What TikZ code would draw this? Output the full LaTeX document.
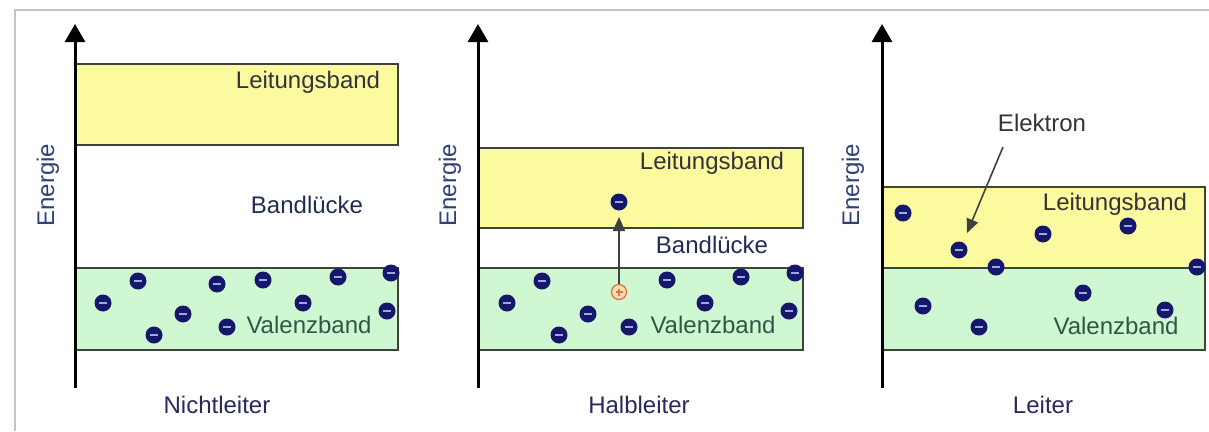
\documentclass[tikz,border=0pt]{standalone}
\usepackage{fontspec}
\setmainfont{Liberation Sans}
\usetikzlibrary{arrows.meta}
\definecolor{cbfill}{HTML}{FCFA9E}
\definecolor{vbfill}{HTML}{CFF7D2}
\definecolor{bandline}{HTML}{3E4436}
\definecolor{enavy}{HTML}{16176B}
\definecolor{eminus}{HTML}{9AACE6}
\definecolor{txtgrey}{HTML}{333338}
\definecolor{txtnavy}{HTML}{2E3F7A}
\definecolor{txtgreen}{HTML}{2F5747}
\definecolor{frame}{HTML}{C4C4C4}
\definecolor{holeline}{HTML}{E0763A}
\definecolor{holefill}{HTML}{F9DDB8}
\tikzset{
  x=1pt, y=-1pt,
  lbl/.style={font=\fontsize{24}{28}\selectfont, inner sep=0pt},
  cbtxt/.style={lbl, text=txtgrey},
  gaptxt/.style={lbl, text=txtnavy!70!black},
  vbtxt/.style={lbl, text=txtgreen},
  captxt/.style={lbl, text=txtgrey!80!blue},
  entxt/.style={lbl, text=txtnavy, rotate=90},
  axis/.style={line width=3pt, -{Triangle[width=20pt,length=18pt]}},
  cband/.style={draw=bandline, line width=2.4pt, fill=cbfill},
  vband/.style={draw=bandline, line width=2.4pt, fill=vbfill},
  electron/.style={circle, fill=enavy, minimum size=17pt, inner sep=0pt,
    path picture={\draw[eminus, line width=2.6pt]
      ([xshift=-4pt]path picture bounding box.center) --
      ([xshift=4pt]path picture bounding box.center);}},
  hole/.style={circle, draw=holeline, fill=holefill, line width=1.3pt,
    minimum size=15pt, inner sep=0pt,
    path picture={\draw[holeline, line width=1.2pt]
      ([xshift=-3.5pt]path picture bounding box.center) --
      ([xshift=3.5pt]path picture bounding box.center)
      ([yshift=-3.5pt]path picture bounding box.center) --
      ([yshift=3.5pt]path picture bounding box.center);}},
  pointer/.style={line width=1.6pt, draw=black!75, -{Triangle[width=12pt,length=14pt]}},
}
\begin{document}
\begin{tikzpicture}
\useasboundingbox (0,0) rectangle (1209,431);
% outer frame
\draw[frame, line width=1.5pt] (15,431) -- (15,10) -- (1209,10);

% ---------- Nichtleiter ----------
\filldraw[cband] (75,64) rectangle (398,145);
\filldraw[vband] (75,268) rectangle (398,350);
\coordinate (a1b) at (75,388);
\coordinate (a1t) at (75,24);
\draw[axis] (a1b) -- (a1t);
\node[entxt] (en1) at (48,185) {Energie};
\node[cbtxt] (cb1) at (308,82) {Leitungsband};
\node[gaptxt] (gap1) at (307,205) {Bandlücke};
\node[vbtxt] (vb1) at (309,325) {Valenzband};
\node[captxt] (cap1) at (217,405) {Nichtleiter};
\foreach \p [count=\i] in {(103,303),(138,281),(154,335),(183,314),(217,284),(263,280),
    (303,303),(338,277),(391,273),(387,311),(227,327)}
  \node[electron] (e1-\i) at \p {};

% ---------- Halbleiter ----------
\filldraw[cband] (478,148) rectangle (803,228);
\filldraw[vband] (478,268) rectangle (803,350);
\coordinate (a2b) at (478,388);
\coordinate (a2t) at (478,24);
\draw[axis] (a2b) -- (a2t);
\node[entxt] (en2) at (450,185) {Energie};
\node[cbtxt] (cb2) at (712,163) {Leitungsband};
\node[gaptxt] (gap2) at (712,245) {Bandlücke};
\node[vbtxt] (vb2) at (713,325) {Valenzband};
\node[captxt] (cap2) at (639,405) {Halbleiter};
\foreach \p [count=\i] in {(507,303),(542,281),(559,335),(588,314),(629,327),(667,280),
    (705,303),(741,277),(795,273),(789,311)}
  \node[electron] (e2-\i) at \p {};
\node[electron] (ex) at (619,202) {};
\node[hole] (h) at (619,292) {};
\coordinate (jump) at (619,217);
\draw[pointer] (h) -- (jump);

% ---------- Leiter ----------
\filldraw[cband] (882,187) rectangle (1205,268);
\filldraw[vband] (882,268) rectangle (1205,350);
\coordinate (a3b) at (882,388);
\coordinate (a3t) at (882,24);
\draw[axis] (a3b) -- (a3t);
\node[entxt] (en3) at (853,185) {Energie};
\node[cbtxt] (cb3) at (1115,204) {Leitungsband};
\node[vbtxt] (vb3) at (1116,326) {Valenzband};
\node[cbtxt] (el) at (1042,123) {Elektron};
\node[captxt] (cap3) at (1043,405) {Leiter};
\foreach \p [count=\i] in {(903,213),(959,250),(996,267),(1043,234),(1128,226),(1197,267),
    (923,306),(979,327),(1083,293),(1165,310)}
  \node[electron] (e3-\i) at \p {};
\coordinate (elfrom) at (1003,147);
\coordinate (elto) at (967,233);
\draw[pointer] (elfrom) -- (elto);
\end{tikzpicture}
\end{document}
